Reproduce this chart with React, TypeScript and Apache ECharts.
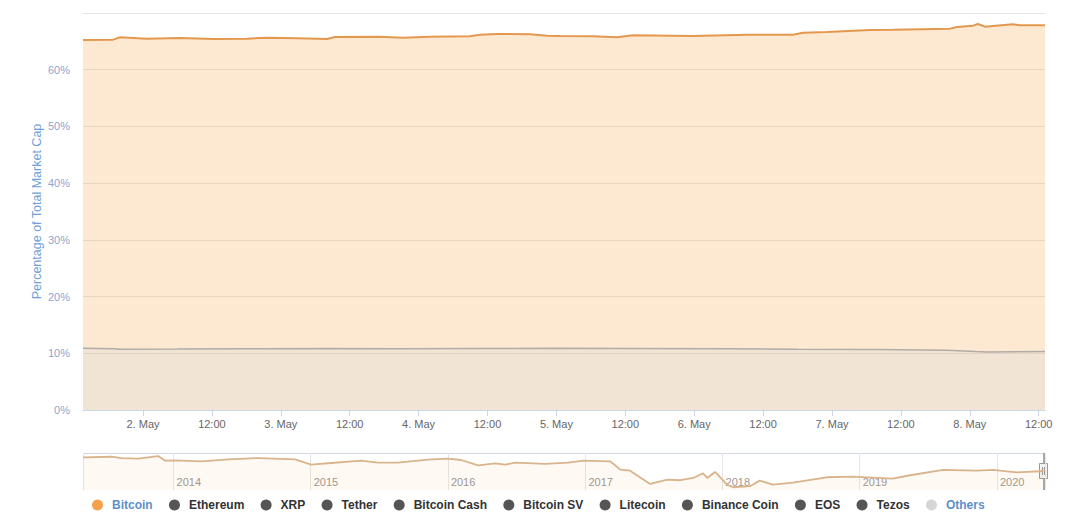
import React, { useEffect, useRef } from 'react';
import * as echarts from 'echarts';

// Main chart (last 7 days), times in UTC
const BTC_TIMES = [
  '2020-05-01T13:33', '2020-05-01T18:47', '2020-05-01T20:00', '2020-05-02T00:42', '2020-05-02T06:26',
  '2020-05-02T12:11', '2020-05-02T18:07', '2020-05-02T21:36', '2020-05-03T02:49', '2020-05-03T08:03',
  '2020-05-03T09:26', '2020-05-03T17:17', '2020-05-03T21:17', '2020-05-04T01:59', '2020-05-04T08:57',
  '2020-05-04T10:41', '2020-05-04T13:39', '2020-05-04T19:24', '2020-05-04T22:22', '2020-05-05T00:38',
  '2020-05-05T06:22', '2020-05-05T10:33', '2020-05-05T13:20', '2020-05-05T23:47', '2020-05-06T09:12',
  '2020-05-06T17:13', '2020-05-06T18:57', '2020-05-06T23:08', '2020-05-07T06:37', '2020-05-07T10:37',
  '2020-05-07T20:33', '2020-05-07T21:46', '2020-05-08T00:34', '2020-05-08T01:26', '2020-05-08T02:39',
  '2020-05-08T04:02', '2020-05-08T07:31', '2020-05-08T08:44', '2020-05-08T13:06',
];
const BITCOIN = [
  65.24, 65.30, 65.72, 65.47, 65.60,
  65.42, 65.47, 65.65, 65.54, 65.42,
  65.77, 65.83, 65.65, 65.83, 65.90,
  66.18, 66.30, 66.25, 66.00, 65.95,
  65.90, 65.72, 66.07, 65.95, 66.18,
  66.18, 66.53, 66.65, 67.01, 67.06,
  67.24, 67.54, 67.77, 68.06, 67.59,
  67.71, 68.01, 67.84, 67.84,
];

const ETH_TIMES = [
  '2020-05-01T13:33', '2020-05-01T19:00', '2020-05-01T20:00', '2020-05-02T06:00', '2020-05-02T18:00',
  '2020-05-03T08:00', '2020-05-03T20:00', '2020-05-04T10:00', '2020-05-05T00:00', '2020-05-05T12:00',
  '2020-05-06T06:00', '2020-05-06T18:00', '2020-05-07T08:00', '2020-05-07T20:00', '2020-05-08T01:00',
  '2020-05-08T03:00', '2020-05-08T08:00', '2020-05-08T13:06',
];
const ETHEREUM = [
  10.88, 10.80, 10.70, 10.74, 10.80,
  10.86, 10.80, 10.84, 10.88, 10.84,
  10.80, 10.72, 10.66, 10.55, 10.30,
  10.22, 10.28, 10.32,
];

// Navigator (full history of Bitcoin dominance)
const NAV_DATES = [
  '2013-05-05', '2013-07-20', '2013-08-15', '2013-09-29', '2013-11-21', '2013-12-10', '2014-01-06',
  '2014-03-15', '2014-05-27', '2014-08-15', '2014-11-20', '2015-01-02', '2015-02-24', '2015-05-15',
  '2015-06-29', '2015-08-21', '2015-11-09', '2016-01-01', '2016-02-05', '2016-03-22', '2016-05-06',
  '2016-06-02', '2016-06-28', '2016-09-16', '2016-11-16', '2016-12-27', '2017-03-08', '2017-04-04',
  '2017-04-30', '2017-06-22', '2017-08-07', '2017-09-11', '2017-10-15', '2017-11-10', '2017-11-21',
  '2017-12-12', '2018-01-13', '2018-01-29', '2018-03-15', '2018-04-10', '2018-05-15', '2018-07-07',
  '2018-10-05', '2018-12-13', '2019-03-30', '2019-05-15', '2019-08-11', '2019-11-09', '2019-12-21',
  '2020-02-23', '2020-04-25', '2020-05-08',
];
const NAV_BITCOIN = [
  92.4, 93.6, 91.0, 89.7, 95.0, 85.7, 86.5,
  84.5, 88.5, 91.0, 88.5, 77.8, 81.1, 85.7,
  81.7, 81.7, 87.7, 89.7, 87.1, 76.6, 80.5,
  77.8, 81.7, 79.2, 81.7, 85.7, 84.5, 67.9,
  65.9, 39.5, 48.1, 46.9, 51.4, 60.7, 51.4,
  63.3, 38.2, 33.0, 35.0, 46.1, 38.2, 42.1,
  52.8, 54.0, 50.0, 56.8, 67.3, 65.9, 67.3,
  62.7, 64.7, 67.0,
];

const LEGEND_NAMES = [
  'Bitcoin', 'Ethereum', 'XRP', 'Tether', 'Bitcoin Cash', 'Bitcoin SV',
  'Litecoin', 'Binance Coin', 'EOS', 'Tezos', 'Others',
];
const HIGHLIGHTED = ['Bitcoin', 'Others'];

const MAIN_START = '2020-05-01T13:33';
const MAIN_END = '2020-05-08T13:06';
const NAV_START = '2013-05-05';
const NAV_END = '2020-05-08';

const utc = (s: string) => new Date(s + ':00Z').getTime();
const day = (s: string) => new Date(s + 'T00:00:00Z').getTime();

const H13 = 13 * 3600 * 1000;
const DAY = 24 * 3600 * 1000;
const FONT = '"Liberation Sans", Arial, sans-serif';

export default function App() {
  const ref = useRef<HTMLDivElement>(null);
  useEffect(() => {
    if (!ref.current) return;
    const chart = echarts.init(ref.current, undefined, { renderer: 'svg' });

    const legendColor = (n: string) =>
      n === 'Bitcoin' ? '#f5a04a' : n === 'Others' ? '#d6d6d6' : '#555555';

    const emptySeries = LEGEND_NAMES.filter((n) => n !== 'Bitcoin' && n !== 'Ethereum').map((n) => ({
      name: n,
      type: 'line',
      data: [] as any[],
      itemStyle: { color: legendColor(n) },
      xAxisIndex: 0,
      yAxisIndex: 0,
    }));

    chart.setOption({
      animation: false,
      useUTC: true,
      textStyle: { fontFamily: FONT },
      grid: [
        { left: 83, right: 35, top: 13, bottom: 102 },
        { left: 83, right: 35, top: 453, bottom: 22 },
      ],
      legend: {
        left: 92,
        top: 499,
        padding: 0,
        icon: 'circle',
        itemWidth: 11,
        itemHeight: 11,
        itemGap: 16.3,
        selectedMode: false,
        textStyle: { fontSize: 12, fontWeight: 'bold', color: '#333', padding: [0, 0, 0, 4], fontFamily: FONT },
        data: LEGEND_NAMES.map((n) => ({
          name: n,
          itemStyle: { color: legendColor(n) },
          textStyle: { color: HIGHLIGHTED.includes(n) ? '#5f8fca' : '#333333' },
        })),
      },
      xAxis: [
        {
          type: 'time',
          gridIndex: 0,
          min: utc(MAIN_START),
          max: utc(MAIN_END),
          minInterval: H13,
          maxInterval: H13,
          axisLine: { show: true, lineStyle: { color: '#ccd6eb' } },
          axisTick: { show: true, length: 6, lineStyle: { color: '#ccd6eb' } },
          axisLabel: {
            color: '#666666',
            fontSize: 11,
            margin: 8,
            showMinLabel: false,
            showMaxLabel: false,
            formatter: { day: '{d}. {MMM}', hour: '{HH}:{mm}' },
          },
          splitLine: { show: false },
        },
        {
          type: 'time',
          gridIndex: 1,
          min: day(NAV_START),
          max: day(NAV_END),
          minInterval: 365 * DAY,
          splitNumber: 7,
          axisLine: { show: false },
          axisTick: { show: false },
          axisLabel: {
            inside: true,
            color: '#999999',
            fontSize: 11,
            margin: 3,
            align: 'left',
            padding: [0, 0, 0, 3],
            showMinLabel: false,
            showMaxLabel: false,
            formatter: { year: '{yyyy}' },
          },
          splitLine: { show: true, lineStyle: { color: '#e6e6e6' } },
        },
      ],
      yAxis: [
        {
          type: 'value',
          gridIndex: 0,
          min: 0,
          max: 70,
          interval: 10,
          name: 'Percentage of Total Market Cap',
          nameLocation: 'middle',
          nameGap: 40,
          nameMoveOverlap: false,
          nameTextStyle: { color: '#6f9fd8', fontSize: 12.5 },
          axisLine: { show: false },
          axisTick: { show: false },
          axisLabel: {
            color: '#8aa6cf',
            fontSize: 11,
            margin: 13,
            formatter: (v: number) => (v === 70 ? '' : v + '%'),
          },
          splitLine: { lineStyle: { color: '#e6e6e6' } },
        },
        {
          type: 'value',
          gridIndex: 1,
          min: 27.5,
          max: 101,
          show: false,
          splitLine: { show: false },
        },
      ],
      series: [
        {
          name: 'Bitcoin',
          type: 'line',
          xAxisIndex: 0,
          yAxisIndex: 0,
          showSymbol: false,
          symbol: 'none',
          data: BTC_TIMES.map((t, i) => [utc(t), BITCOIN[i]]),
          itemStyle: { color: '#f5a04a' },
          lineStyle: { color: '#e4984f', width: 2 },
          areaStyle: { color: 'rgba(247,147,26,0.2)', opacity: 1 },
          z: 2,
        },
        {
          name: 'Ethereum',
          type: 'line',
          xAxisIndex: 0,
          yAxisIndex: 0,
          showSymbol: false,
          symbol: 'none',
          data: ETH_TIMES.map((t, i) => [utc(t), ETHEREUM[i]]),
          itemStyle: { color: '#555555' },
          lineStyle: { color: '#b0aca6', width: 1.5 },
          areaStyle: { color: 'rgba(198,208,224,0.2)', opacity: 1 },
          z: 3,
        },
        ...emptySeries,
        {
          name: 'Navigator',
          type: 'line',
          xAxisIndex: 1,
          yAxisIndex: 1,
          showSymbol: false,
          symbol: 'none',
          silent: true,
          data: NAV_DATES.map((d, i) => [day(d), NAV_BITCOIN[i]]),
          lineStyle: { color: '#d8b48c', width: 1.8 },
          areaStyle: { color: 'rgba(247,147,26,0.05)', opacity: 1 },
        },
      ],
      graphic: [
        {
          type: 'line',
          shape: { x1: 83, y1: 453.5, x2: 1044, y2: 453.5 },
          style: { stroke: '#cfd8e3', lineWidth: 1 },
          silent: true,
        },
        {
          type: 'line',
          shape: { x1: 1044, y1: 453, x2: 1044, y2: 490 },
          style: { stroke: '#a8a8a8', lineWidth: 2 },
          silent: true,
        },
        {
          type: 'rect',
          shape: { x: 1039.5, y: 463.5, width: 8, height: 15 },
          style: { fill: '#f2f2f2', stroke: '#999999', lineWidth: 1 },
          silent: true,
        },
        {
          type: 'line',
          shape: { x1: 1042.5, y1: 467, x2: 1042.5, y2: 475 },
          style: { stroke: '#999999', lineWidth: 1 },
          silent: true,
        },
        {
          type: 'line',
          shape: { x1: 1044.5, y1: 467, x2: 1044.5, y2: 475 },
          style: { stroke: '#999999', lineWidth: 1 },
          silent: true,
        },
      ],
    });
    return () => chart.dispose();
  }, []);

  return (
    <div
      ref={ref}
      style={{ position: 'fixed', left: 0, top: 0, width: 1080, height: 512, background: '#ffffff' }}
    />
  );
}
